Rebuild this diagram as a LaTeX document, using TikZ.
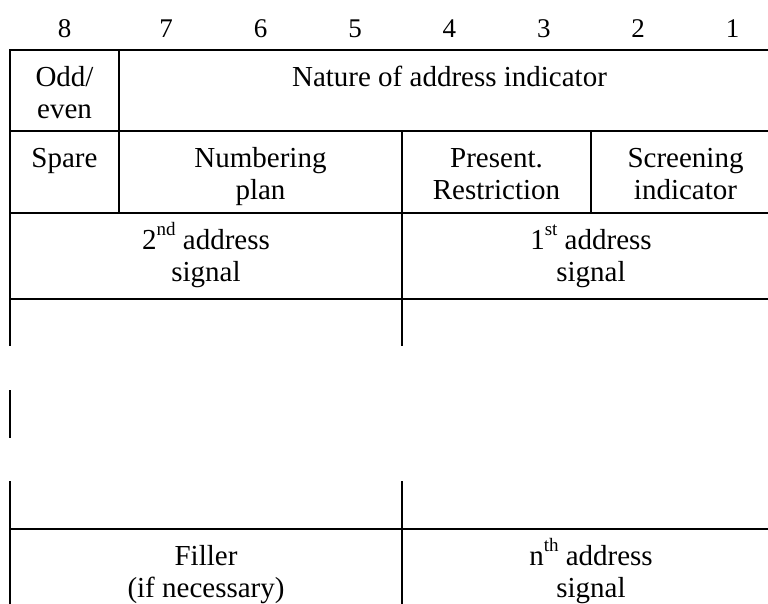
\documentclass[tikz,border=0pt]{standalone}
\usepackage{fontspec}
\setmainfont{Liberation Serif}
\newcommand{\ordsup}[1]{\smash{\raisebox{14pt}{\fontsize{19}{20}\selectfont #1}}}
\tikzset{cell/.style = {anchor=north, inner sep=0pt, yshift=-13.6pt, align=center, font=\fontsize{29}{32}\selectfont},
         bit/.style = {anchor=base, inner sep=0pt, font=\fontsize{27}{32}\selectfont},
         tabline/.style = {line width=2pt, line cap=rect}}

\begin{document}
\begin{tikzpicture}[x=1pt, y=-1pt]
    \useasboundingbox (0,0) rectangle (768,604);
    % bit numbers over the octets
    \node[bit] (b8) at (64.5,38) {8};
    \foreach \b [count=\i] in {7,6,5,4,3,2,1}
        \node[bit] (b\b) at (119+94.4*\i-47.2,38) {\b};
    % octet rules
    \draw[tabline] (10,50) -- (780,50);
    \draw[tabline] (10,131) -- (780,131);
    \draw[tabline] (10,213) -- (780,213);
    \draw[tabline] (10,299) -- (780,299);
    \draw[tabline] (10,529) -- (780,529);
    \draw[tabline] (10,50) -- (10,345);
    \draw[tabline] (10,391) -- (10,437);
    \draw[tabline] (10,482) -- (10,604);
    \draw[tabline] (119,50) -- (119,213);
    \draw[tabline] (402,131) -- (402,345);
    \draw[tabline] (402,482) -- (402,604);
    \draw[tabline] (591,131) -- (591,213);
    % fields
    \node[cell] (oe) at (64.5,50) {\strut Odd/\\even};
    \node[cell] (nai) at (449.5,50) {\strut Nature of address indicator};
    \node[cell] (spare) at (64.5,131) {\strut Spare};
    \node[cell] (np) at (260.5,131) {\strut Numbering\\plan};
    \node[cell] (pr) at (496.5,131) {\strut Present.\\Restriction};
    \node[cell] (si) at (685.5,131) {\strut Screening\\indicator};
    \node[cell] (as2) at (206,213) {\strut 2\ordsup{nd} address\\signal};
    \node[cell] (as1) at (591,213) {\strut 1\ordsup{st} address\\signal};
    \node[cell] (fill) at (206,529) {\strut Filler\\(if necessary)};
    \node[cell] (asn) at (591,529) {\strut n\ordsup{th} address\\signal};
\end{tikzpicture}
\end{document}
